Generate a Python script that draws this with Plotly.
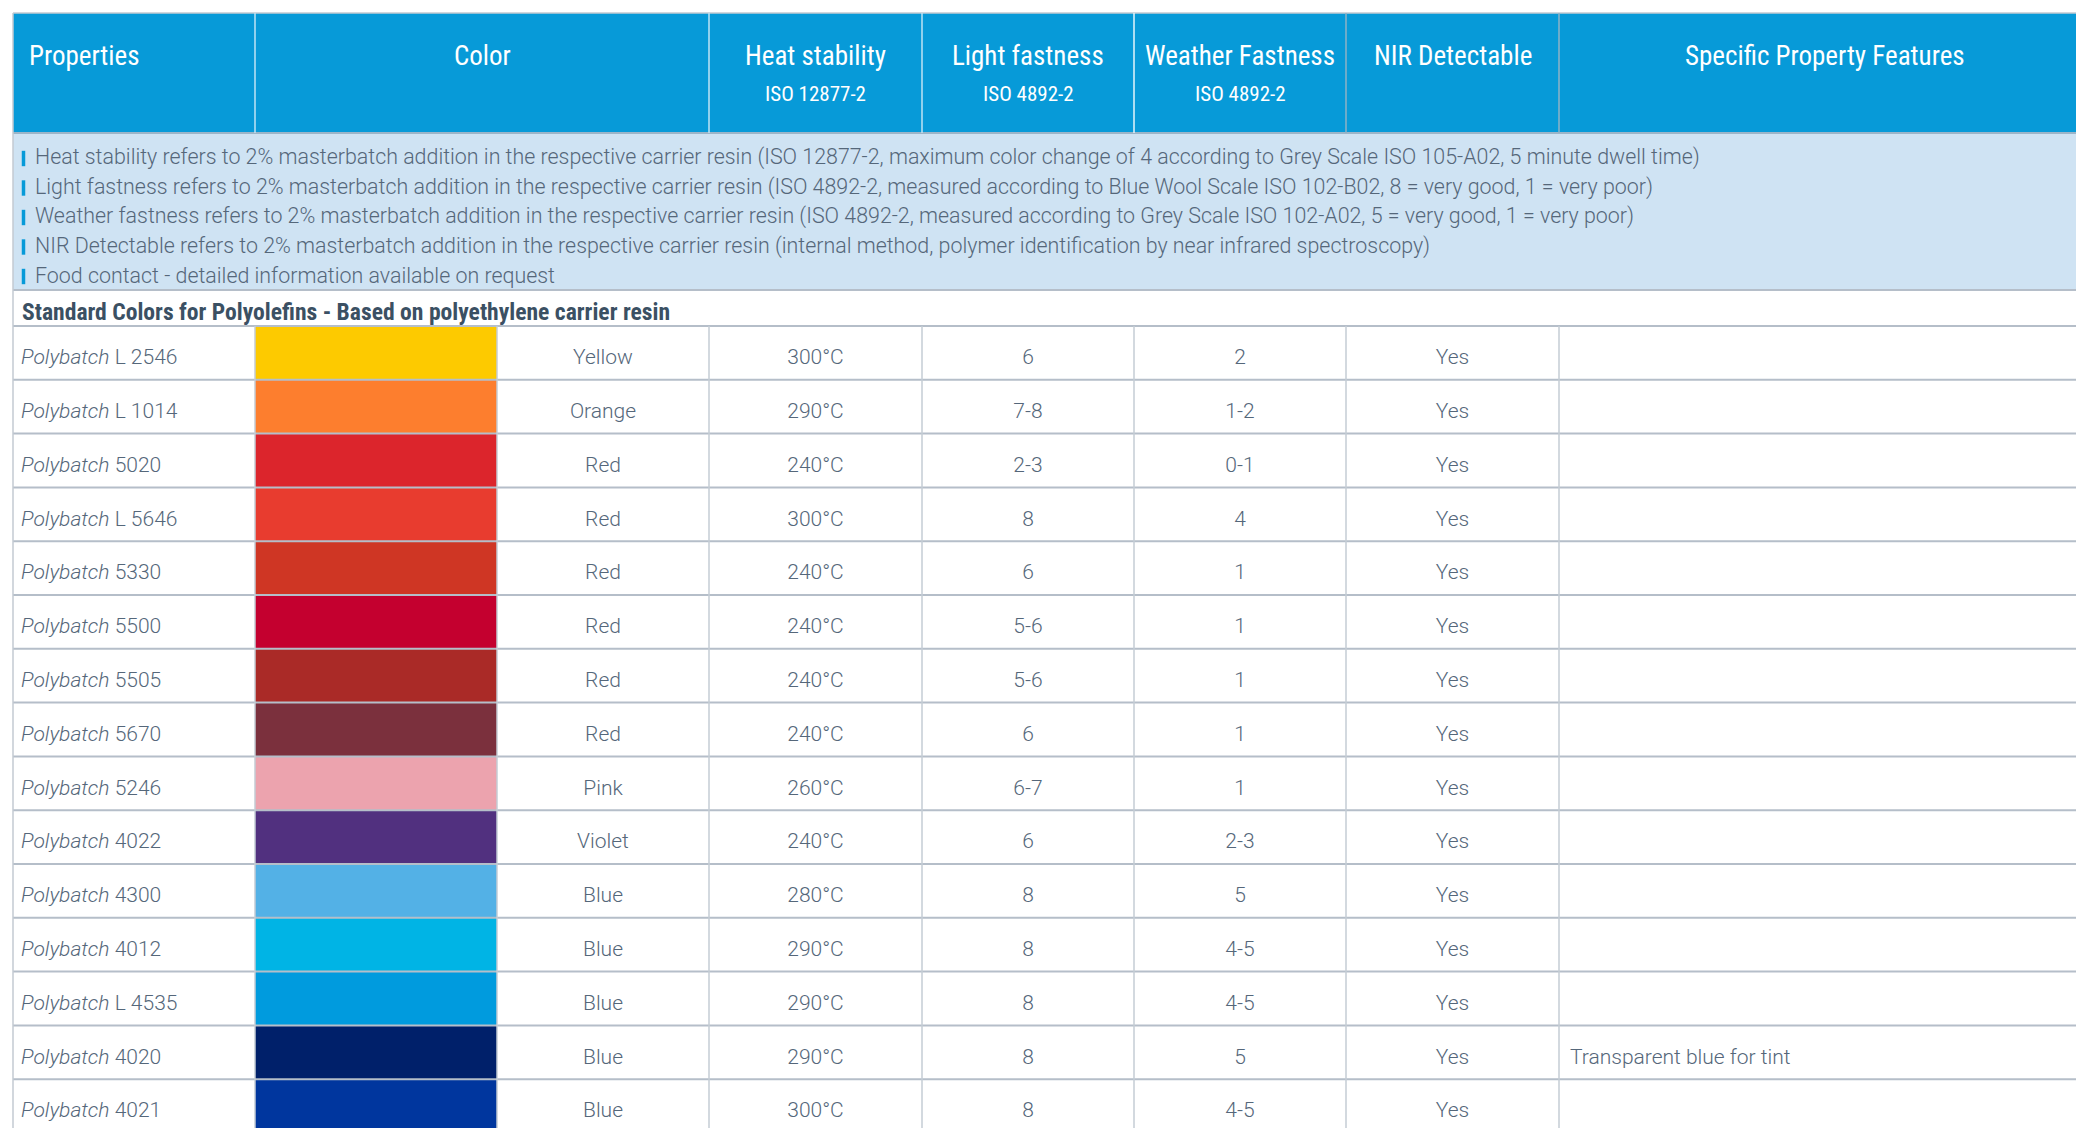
import plotly.graph_objects as go

# ---------------- data ----------------
header_titles = ["Properties", "Color", "Heat stability", "Light fastness",
                 "Weather Fastness", "NIR Detectable", "Specific Property Features"]
header_subtitles = ["", "", "ISO 12877-2", "ISO 4892-2", "ISO 4892-2", "", ""]

notes = [
    "Heat stability refers to 2% masterbatch addition in the respective carrier resin (ISO 12877-2, maximum color change of 4 according to Grey Scale ISO 105-A02, 5 minute dwell time)",
    "Light fastness refers to 2% masterbatch addition in the respective carrier resin (ISO 4892-2, measured according to Blue Wool Scale ISO 102-B02, 8 = very good, 1 = very poor)",
    "Weather fastness refers to 2% masterbatch addition in the respective carrier resin (ISO 4892-2, measured according to Grey Scale ISO 102-A02, 5 = very good, 1 = very poor)",
    "NIR Detectable refers to 2% masterbatch addition in the respective carrier resin (internal method, polymer identification by near infrared spectroscopy)",
    "Food contact - detailed information available on request",
]

group_title = "Standard Colors for Polyolefins - Based on polyethylene carrier resin"

products = ["L 2546", "L 1014", "5020", "L 5646", "5330", "5500", "5505", "5670",
            "5246", "4022", "4300", "4012", "L 4535", "4020", "4021"]
swatch_colors = ["#fdca00", "#fd7e2e", "#dc252c", "#e83c2f", "#cf3624", "#c4002f",
                 "#aa2a27", "#7b303d", "#eca3ae", "#51307f", "#53b1e6", "#00b4e5",
                 "#009bde", "#00206a", "#00369e"]
color_names = ["Yellow", "Orange", "Red", "Red", "Red", "Red", "Red", "Red",
               "Pink", "Violet", "Blue", "Blue", "Blue", "Blue", "Blue"]
heat_stability = ["300°C", "290°C", "240°C", "300°C", "240°C", "240°C", "240°C", "240°C",
                  "260°C", "240°C", "280°C", "290°C", "290°C", "290°C", "300°C"]
light_fastness = ["6", "7-8", "2-3", "8", "6", "5-6", "5-6", "6",
                  "6-7", "6", "8", "8", "8", "8", "8"]
weather_fastness = ["2", "1-2", "0-1", "4", "1", "1", "1", "1",
                    "1", "2-3", "5", "4-5", "4-5", "5", "4-5"]
nir_detectable = ["Yes", "Yes", "Yes", "Yes", "Yes", "Yes", "Yes", "Yes",
                  "Yes", "Yes", "Yes", "Yes", "Yes", "Yes", "Yes"]
features = ["", "", "", "", "", "", "", "", "", "", "", "", "",
            "Transparent blue for tint", ""]

# ---------------- layout / style ----------------
W, H = 2076, 1128
col_edges = [13, 255, 497, 709, 922, 1134, 1346, 1559, 2091]
top, head_bot, info_bot, group_bot = 13, 133, 290, 326
row_h = 53.8
note_y0, note_dy = 157, 29.5

HEAD_BLUE = "#079ad8"
INFO_BG = "#cfe3f3"
GRID = "#b5bec9"
TEXT = "#55677a"
NARROW = "Roboto Condensed, Liberation Sans Narrow, Arial Narrow, Roboto, sans-serif"
BODY = "Roboto, sans-serif"

n = len(products)
row_tops = [group_bot + i * row_h for i in range(n)]
row_mid = [t + row_h / 2 for t in row_tops]
text_y = [t + 33 for t in row_tops]

def center(a, b):
    return (col_edges[a] + col_edges[b]) / 2

fig = go.Figure()

# colour swatches as horizontal bars
fig.add_trace(go.Bar(
    orientation="h", y=row_mid, x=[col_edges[2] - col_edges[1]] * n, base=col_edges[1],
    width=row_h, marker=dict(color=swatch_colors, line=dict(width=0)),
    hoverinfo="skip"))

def text_col(xs, ys, texts, pos="middle center", color=TEXT, size=21, weight=300):
    fig.add_trace(go.Scatter(
        x=xs, y=ys, text=texts, mode="text", textposition=pos,
        textfont=dict(family=BODY, size=size, color=color, weight=weight),
        hoverinfo="skip", cliponaxis=False))

text_col([21] * n, text_y, ["<i>Polybatch</i> " + p for p in products], pos="middle right")
text_col([center(2, 3)] * n, text_y, color_names)
text_col([center(3, 4)] * n, text_y, heat_stability)
text_col([center(4, 5)] * n, text_y, light_fastness)
text_col([center(5, 6)] * n, text_y, weather_fastness)
text_col([center(6, 7)] * n, text_y, nir_detectable)
text_col([col_edges[7] + 11] * n, text_y, features, pos="middle right")

# note bullets
note_ys = [note_y0 + i * note_dy for i in range(len(notes))]
fig.add_trace(go.Scatter(
    x=[23.5] * len(notes), y=[y + 1.5 for y in note_ys], mode="markers",
    marker=dict(symbol="line-ns", size=11, line=dict(width=3.5, color=HEAD_BLUE)),
    hoverinfo="skip"))

shapes = []
# backgrounds
shapes.append(dict(type="rect", x0=col_edges[0], x1=col_edges[-1], y0=top, y1=head_bot,
                   fillcolor=HEAD_BLUE, line=dict(width=0), layer="below"))
shapes.append(dict(type="rect", x0=col_edges[0], x1=col_edges[-1], y0=head_bot, y1=info_bot,
                   fillcolor=INFO_BG, line=dict(width=0), layer="below"))
# horizontal rules
shapes.append(dict(type="line", x0=col_edges[0], x1=col_edges[-1], y0=top, y1=top,
                   line=dict(color="#c3cad2", width=1.5), layer="above"))
shapes.append(dict(type="line", x0=col_edges[0], x1=col_edges[-1], y0=head_bot, y1=head_bot,
                   line=dict(color="#9cb5c8", width=2), layer="above"))
for yy in [info_bot, group_bot] + [t + row_h for t in row_tops]:
    shapes.append(dict(type="line", x0=col_edges[0], x1=col_edges[-1], y0=yy, y1=yy,
                       line=dict(color=GRID, width=2), layer="above"))
# left border
shapes.append(dict(type="line", x0=col_edges[0], x1=col_edges[0], y0=top, y1=H + 20,
                   line=dict(color="#c3cad2", width=1.5), layer="above"))
# header separators (Color spans two columns)
head_sep_colors = ["#bfe3f5", "#bfe3f5", "#bfe3f5", "#e6f4fb", "#8fb2c6", "#8fb2c6"]
for k, e in enumerate([1, 3, 4, 5, 6, 7]):
    shapes.append(dict(type="line", x0=col_edges[e], x1=col_edges[e], y0=top, y1=head_bot,
                       line=dict(color=head_sep_colors[k], width=1.5), layer="above"))
# body column separators
for e in range(1, 8):
    shapes.append(dict(type="line", x0=col_edges[e], x1=col_edges[e], y0=group_bot, y1=H + 20,
                       line=dict(color="#c5ccd5", width=1.5), layer="above"))

annotations = []
for i, (t, s) in enumerate(zip(header_titles, header_subtitles)):
    if i == 0:
        x, xa = 27, "left"
    elif i == 1:
        x, xa = center(1, 3), "center"
    else:
        x, xa = center(i + 1, i + 2), "center"
    annotations.append(dict(x=x, y=56, text=t, xanchor=xa, yanchor="middle", showarrow=False,
                            font=dict(family=NARROW, size=27, color="white")))
    if s:
        annotations.append(dict(x=x, y=94, text=s, xanchor=xa, yanchor="middle", showarrow=False,
                                font=dict(family=NARROW, size=21, color="white")))
for y, t in zip(note_ys, notes):
    annotations.append(dict(x=33, y=y, text=t, xanchor="left", yanchor="middle", showarrow=False,
                            font=dict(family=BODY, size=21.4, color=TEXT, weight=300)))
annotations.append(dict(x=20, y=312, text=group_title, xanchor="left", yanchor="middle",
                        showarrow=False,
                        font=dict(family=NARROW, size=23.6, color="#3b5063", weight="bold")))

fig.update_layout(
    width=W, height=H, margin=dict(l=0, r=0, t=0, b=0),
    paper_bgcolor="white", plot_bgcolor="white", showlegend=False,
    xaxis=dict(range=[0, W], visible=False, fixedrange=True),
    yaxis=dict(range=[H, 0], visible=False, fixedrange=True),
    shapes=shapes, annotations=annotations,
)
fig.write_html(
    "out.html", config={"displayModeBar": False},
    post_script="document.body.style.margin='0';document.body.style.overflow='hidden';",
)
